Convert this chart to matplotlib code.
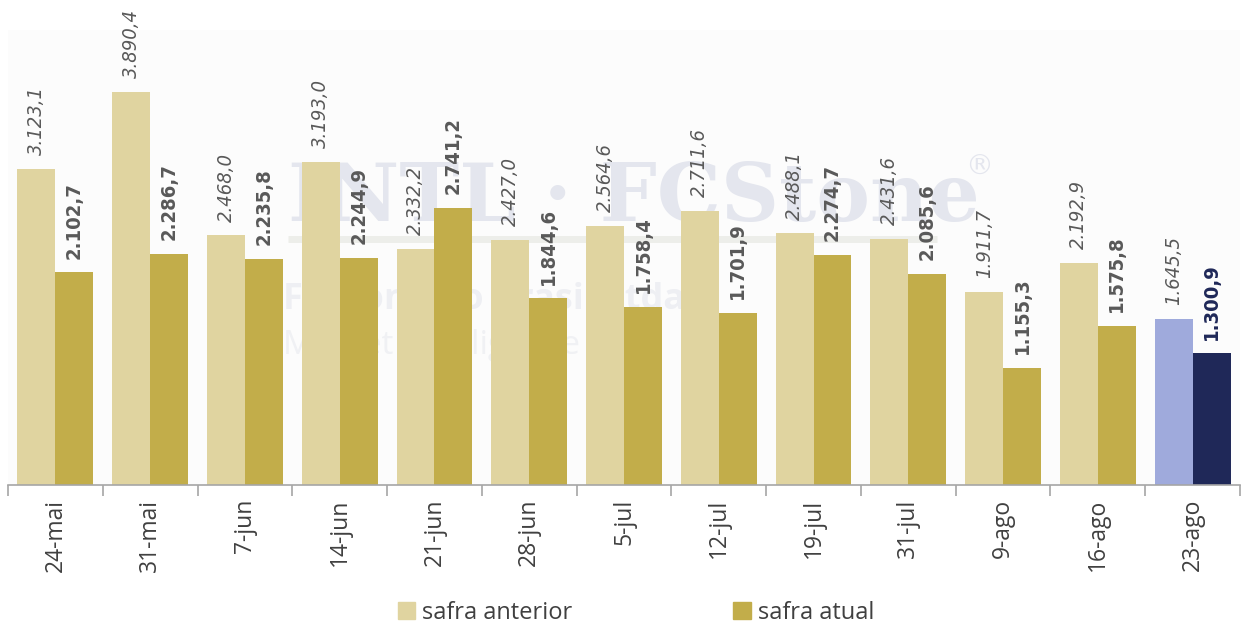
import numpy as np
import matplotlib
matplotlib.use('Agg')
import matplotlib.pyplot as plt
from matplotlib.patches import Patch
from matplotlib import font_manager

# Data
categorias = ['24-mai', '31-mai', '7-jun', '14-jun', '21-jun', '28-jun', '5-jul',
              '12-jul', '19-jul', '31-jul', '9-ago', '16-ago', '23-ago']
safra_anterior = [3123.1, 3890.4, 2468.0, 3193.0, 2332.2, 2427.0, 2564.6,
                  2711.6, 2488.1, 2431.6, 1911.7, 2192.9, 1645.5]
safra_atual = [2102.7, 2286.7, 2235.8, 2244.9, 2741.2, 1844.6, 1758.4,
               1701.9, 2274.7, 2085.6, 1155.3, 1575.8, 1300.9]

cor_ant = '#E0D4A0'
cor_atu = '#C2AD4A'
cor_ant_dest = '#9FAADC'
cor_atu_dest = '#1F2858'
cor_texto = '#595959'

# condensed DejaVu for the value labels, if the system has it
tem_condensed = any('Condensed' in f.fname for f in font_manager.fontManager.ttflist
                    if f.name == 'DejaVu Sans')


def fmt_br(v):
    # 3890.4 -> 3.890,4
    s = f'{v:,.1f}'
    return s.replace(',', 'X').replace('.', ',').replace('X', '.')


fig = plt.figure(figsize=(12.52, 6.28), dpi=100)
ax = fig.add_axes([8 / 1252, 1 - 485 / 628, 1232 / 1252, 455 / 628])
ax.set_facecolor('#FCFCFC')

x = np.arange(len(categorias))
w = 0.4
cores_ant = [cor_ant] * (len(x) - 1) + [cor_ant_dest]
cores_atu = [cor_atu] * (len(x) - 1) + [cor_atu_dest]

b1 = ax.bar(x - w / 2, safra_anterior, w, color=cores_ant, zorder=2)
b2 = ax.bar(x + w / 2, safra_atual, w, color=cores_atu, zorder=2)

estilo = dict(family='DejaVu Sans', fontstretch='condensed') if tem_condensed else dict(family='Open Sans')

# value labels, rotated
for rect, v in zip(b1, safra_anterior):
    ax.annotate(fmt_br(v), (rect.get_x() + rect.get_width() / 2, rect.get_height()),
                xytext=(0, 10), textcoords='offset points', rotation=90,
                ha='center', va='bottom', fontsize=14.5, style='italic',
                color=cor_texto, zorder=3, **estilo)
for i, (rect, v) in enumerate(zip(b2, safra_atual)):
    ax.annotate(fmt_br(v), (rect.get_x() + rect.get_width() / 2, rect.get_height()),
                xytext=(0, 10), textcoords='offset points', rotation=90,
                ha='center', va='bottom', fontsize=14.5, fontweight='bold',
                color=cor_atu_dest if i == len(x) - 1 else cor_texto,
                zorder=3, **estilo)

# faint watermark behind the bars
ax.text(6.1, 2830, 'INTL · FCStone', ha='center', va='center', fontsize=58,
        family='DejaVu Serif', fontweight='bold', color='#E4E6EE', zorder=0)
ax.text(9.75, 3150, '®', ha='center', va='center', fontsize=20,
        family='DejaVu Sans', color='#E4E6EE', zorder=0)
ax.plot([2.45, 9.3], [2430, 2430], color='#EDEEEA', lw=5, zorder=0, solid_capstyle='butt')
ax.text(2.4, 1830, 'FCStone do Brasil Ltda.', ha='left', va='center', fontsize=26,
        family='Open Sans', fontweight='bold', color='#EEEFF3', zorder=0)
ax.text(2.4, 1380, 'Market Intelligence', ha='left', va='center', fontsize=24,
        family='Open Sans', color='#F0F1F4', zorder=0)

ax.set_xlim(-0.5, len(x) - 0.5)
ax.set_ylim(0, 4500)
ax.set_yticks([])

ax.set_xticks(x)
ax.set_xticklabels(categorias, rotation=90, fontsize=16.5, color='#404040', family='Open Sans')
ax.tick_params(axis='x', which='major', length=0, pad=10)
ax.set_xticks(np.arange(-0.5, len(x), 1), minor=True)
ax.tick_params(axis='x', which='minor', length=8, color='#A6A6A6', width=1.2)

for s in ['top', 'right', 'left']:
    ax.spines[s].set_visible(False)
ax.spines['bottom'].set_color('#A6A6A6')
ax.spines['bottom'].set_linewidth(1.2)

handles = [Patch(color=cor_ant, label='safra anterior'),
           Patch(color=cor_atu, label='safra atual')]
fig.legend(handles=handles, loc='center', bbox_to_anchor=(0.508, 1 - 613 / 628), ncol=2,
           frameon=False, handlelength=0.75, handleheight=0.75, handletextpad=0.3,
           columnspacing=6.8, prop={'family': 'Open Sans', 'size': 17}, labelcolor='#404040')

fig.savefig('out.png', dpi=100, facecolor='white')
